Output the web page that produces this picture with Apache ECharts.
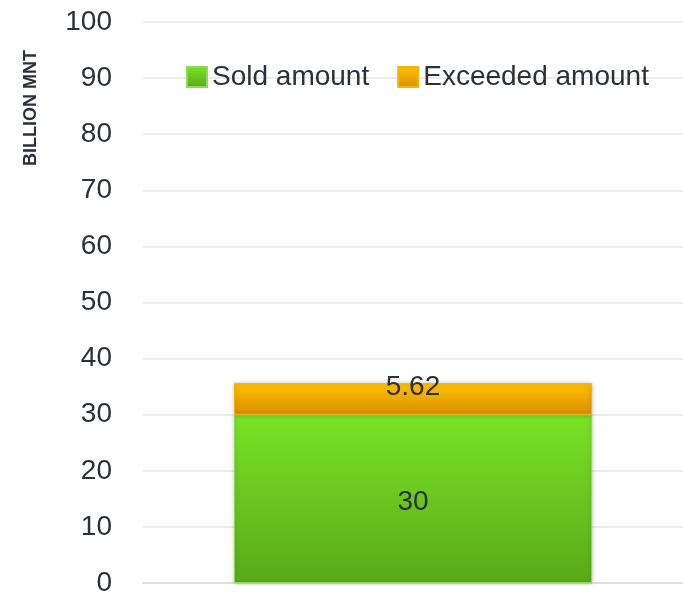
<!DOCTYPE html>
<html>
<head>
<meta charset="utf-8">
<script src="https://cdn.jsdelivr.net/npm/echarts@6/dist/echarts.min.js"></script>
<style>
    html, body { margin: 0; padding: 0; background: #fff; }
    #main { width: 683px; height: 598px; }
</style>
</head>
<body>
<div id="main"></div>
<script>
// 数据
var categories = [''];
var soldAmount = [30];
var exceededAmount = [5.62];
var seriesNames = ['Sold amount', 'Exceeded amount'];

var chart = echarts.init(document.getElementById('main'));
var font = '"Liberation Sans", Arial, sans-serif';
var textColor = '#2b303a';

var option = {
    animation: false,
    textStyle: { fontFamily: font },
    // 图例
    legend: {
        top: 58,
        left: 181,
        icon: 'rect',
        itemWidth: 20,
        itemHeight: 20,
        itemGap: 28,
        textStyle: { fontSize: 28, color: textColor, fontFamily: font },
        data: seriesNames
    },
    grid: { left: 143, right: 0, top: 22, bottom: 15 },
    xAxis: {
        type: 'category',
        data: categories,
        axisLine: { lineStyle: { color: '#d9d9d9', width: 1.5 } },
        axisTick: { show: false },
        axisLabel: { show: false }
    },
    yAxis: {
        type: 'value',
        min: 0,
        max: 100,
        interval: 10,
        axisLine: { show: false },
        axisTick: { show: false },
        axisLabel: { fontSize: 28, color: textColor, fontFamily: font, margin: 31 },
        splitLine: { lineStyle: { color: '#e6e6e6', width: 1.5 } }
    },
    graphic: [{
        type: 'text',
        x: 31,
        y: 108,
        rotation: Math.PI / 2,
        style: {
            text: 'BILLION MNT',
            fontSize: 18,
            fontWeight: 'bold',
            fill: textColor,
            fontFamily: font,
            align: 'center',
            verticalAlign: 'middle'
        }
    }],
    series: [{
        name: seriesNames[0],
        type: 'bar',
        stack: 'total',
        barWidth: 358,
        data: soldAmount,
        itemStyle: {
            color: new echarts.graphic.LinearGradient(0, 0, 0, 1, [
                { offset: 0, color: '#79e326' },
                { offset: 1, color: '#5aa919' }
            ]),
            borderColor: '#8fd85a',
            borderWidth: 1,
            shadowBlur: 4,
            shadowColor: 'rgba(0,0,0,0.25)'
        },
        label: {
            show: true,
            position: 'inside',
            offset: [0, 3],
            fontSize: 28,
            color: textColor,
            fontFamily: font
        }
    }, {
        name: seriesNames[1],
        type: 'bar',
        stack: 'total',
        data: exceededAmount,
        itemStyle: {
            color: new echarts.graphic.LinearGradient(0, 0, 0, 1, [
                { offset: 0, color: '#ffc000' },
                { offset: 1, color: '#d98f00' }
            ]),
            borderColor: '#f5b400',
            borderWidth: 1,
            shadowBlur: 4,
            shadowColor: 'rgba(0,0,0,0.25)'
        },
        label: {
            show: true,
            position: 'inside',
            offset: [0, -12],
            fontSize: 28,
            color: textColor,
            fontFamily: font
        }
    }]
};

chart.setOption(option);
</script>
</body>
</html>
